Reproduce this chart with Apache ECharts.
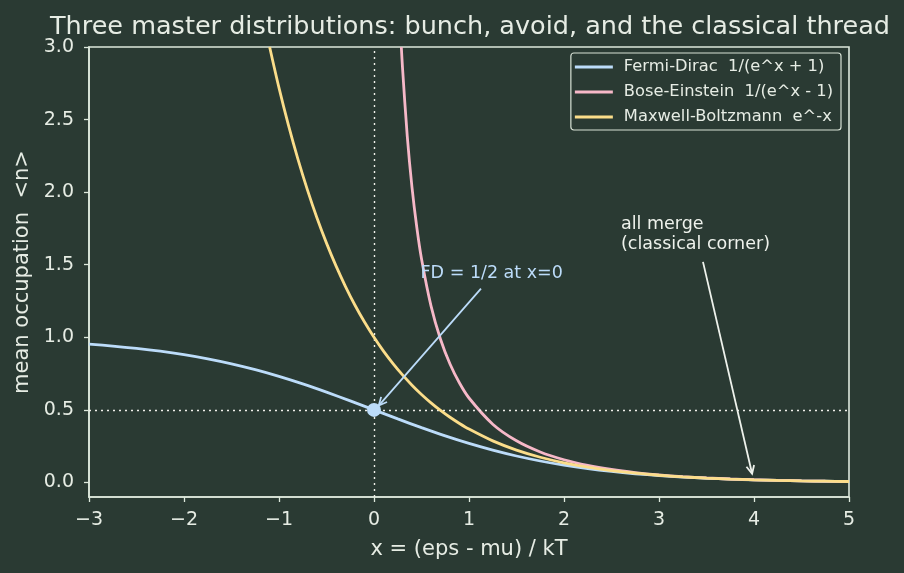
<!DOCTYPE html>
<html><head><meta charset="utf-8">
<script src="https://cdn.jsdelivr.net/npm/echarts@6/dist/echarts.min.js"></script>
<style>html,body{margin:0;padding:0;background:#2a3a33}#c{width:904px;height:573px}</style>
</head><body><div id="c"></div>
<script>
// Fermi-Dirac values
const fdX = [-3,-2.75,-2.5,-2.25,-2,-1.75,-1.5,-1.25,-1,-0.75,-0.5,-0.25,0,0.25,0.5,0.75,1,1.25,1.5,1.75,2,2.25,2.5,2.75,3,3.25,3.5,3.75,4,4.25,4.5,4.75,5];
const fdY = [0.9526,0.9399,0.9241,0.9047,0.8808,0.8520,0.8176,0.7773,0.7311,0.6792,0.6225,0.5622,0.5,0.4378,0.3775,0.3208,0.2689,0.2227,0.1824,0.1480,0.1192,0.0953,0.0759,0.0601,0.0474,0.0373,0.0293,0.0230,0.0180,0.0141,0.0110,0.0086,0.0067];
// Bose-Einstein
const beX = [0.2877,0.3,0.35,0.4,0.45,0.5,0.6,0.7,0.8,0.9,1,1.25,1.5,1.75,2,2.25,2.5,2.75,3,3.25,3.5,3.75,4,4.25,4.5,4.75,5];
const beY = [3.0,2.858,2.386,2.033,1.760,1.5415,1.2164,0.9864,0.8160,0.6851,0.5820,0.4016,0.2872,0.2103,0.1565,0.1178,0.0894,0.0683,0.0524,0.0403,0.0311,0.0241,0.0187,0.0145,0.0112,0.0087,0.0068];
// Maxwell-Boltzmann
const mbX = [-1.0986,-1,-0.9,-0.8,-0.7,-0.6,-0.5,-0.4,-0.3,-0.2,-0.1,0,0.1,0.2,0.3,0.4,0.5,0.6,0.7,0.8,0.9,1,1.25,1.5,1.75,2,2.25,2.5,2.75,3,3.25,3.5,3.75,4,4.25,4.5,4.75,5];
const mbY = [3.0,2.718,2.460,2.226,2.014,1.822,1.649,1.492,1.350,1.221,1.105,1.0,0.9048,0.8187,0.7408,0.6703,0.6065,0.5488,0.4966,0.4493,0.4066,0.3679,0.2865,0.2231,0.1738,0.1353,0.1054,0.0821,0.0639,0.0498,0.0388,0.0302,0.0235,0.0183,0.0143,0.0111,0.0087,0.0067];
const yTicks = [0,0.5,1,1.5,2,2.5,3];
const xTicks = [-3,-2,-1,0,1,2,3,4,5];
const seriesNames = ['Fermi-Dirac  1/(e^x + 1)','Bose-Einstein  1/(e^x - 1)','Maxwell-Boltzmann  e^-x'];
const markPointXY = [0,0.5];

const FONT = 'DejaVu Sans';
const FG = '#e6ece4';
const AX = '#dde8dc';
const C_FD = '#bcdcfa', C_BE = '#f6b8c8', C_MB = '#fbdd8a';
const zip = (a,b)=>a.map((v,i)=>[v,b[i]]);

const chart = echarts.init(document.getElementById('c'), null, {renderer:'canvas'});
const minus = v => String(v).replace('-', '\u2212');
chart.setOption({
  backgroundColor:'#2a3a33',
  animation:false,
  textStyle:{fontFamily:FONT},
  title:{text:'Three master distributions: bunch, avoid, and the classical thread',left:465,textAlign:'center',top:9,
    textStyle:{color:FG,fontSize:25.5,fontWeight:'normal',fontFamily:FONT}},
  grid:{left:89,right:55,top:47,bottom:76,show:true,borderColor:AX,borderWidth:1.6,backgroundColor:'transparent'},
  legend:{orient:'vertical',right:63,top:53,padding:[6,8,5,4],itemGap:9,itemWidth:38,itemHeight:3,icon:'rect',
    borderColor:'#d8e2d6',borderWidth:1.2,borderRadius:3,backgroundColor:'#2a3a33',
    textStyle:{color:FG,fontSize:16.3,fontFamily:FONT,padding:[0,0,0,6]},data:seriesNames},
  xAxis:{type:'value',min:-3,max:5,interval:1,
    name:'x = (eps - mu) / kT',nameLocation:'middle',nameGap:42,nameTextStyle:{color:FG,fontSize:21,fontFamily:FONT},
    axisLine:{show:true,onZero:false,lineStyle:{color:AX,width:1.6}},
    axisTick:{show:true,length:5,lineStyle:{color:AX,width:1.3}},
    axisLabel:{color:FG,fontSize:19,margin:14,fontFamily:FONT,formatter:v=>minus(v)},
    splitLine:{show:false}},
  yAxis:{type:'value',min:-0.1,max:3,
    name:'mean occupation  <n>',nameLocation:'middle',nameGap:47,nameTextStyle:{color:FG,fontSize:21,fontFamily:FONT},
    axisLine:{show:true,onZero:false,lineStyle:{color:AX,width:1.6}},
    axisTick:{show:true,length:5,customValues:yTicks,lineStyle:{color:AX,width:1.3}},
    axisLabel:{color:FG,fontSize:19,margin:15,fontFamily:FONT,customValues:yTicks,formatter:v=>v.toFixed(1)},
    splitLine:{show:false}},
  series:[
    {name:seriesNames[0],type:'line',data:zip(fdX,fdY),showSymbol:false,smooth:0.3,color:C_FD,lineStyle:{width:2.8,color:C_FD},z:3,
      markLine:{silent:true,symbol:['none','none'],label:{show:false},lineStyle:{type:[2,4],color:'#f0f0ea',width:1.4},
        data:[{xAxis:0},{yAxis:0.5}]},
      markPoint:{symbol:'circle',symbolSize:14,itemStyle:{color:C_FD},label:{show:false},data:[{coord:markPointXY}]}},
    {name:seriesNames[1],type:'line',data:zip(beX,beY),showSymbol:false,smooth:0.3,color:C_BE,lineStyle:{width:2.8,color:C_BE},z:4},
    {name:seriesNames[2],type:'line',data:zip(mbX,mbY),showSymbol:false,smooth:0.3,color:C_MB,lineStyle:{width:2.8,color:C_MB},z:5}
  ]
});

function arrow(p0,p1,color){
  const a = chart.convertToPixel({gridIndex:0},p0);
  const b = chart.convertToPixel({gridIndex:0},p1);
  const ang = Math.atan2(b[1]-a[1], b[0]-a[0]);
  const L = 9, th = 0.45;
  const h1 = [b[0]-L*Math.cos(ang-th), b[1]-L*Math.sin(ang-th)];
  const h2 = [b[0]-L*Math.cos(ang+th), b[1]-L*Math.sin(ang+th)];
  return [
    {type:'line',shape:{x1:a[0],y1:a[1],x2:b[0],y2:b[1]},style:{stroke:color,lineWidth:1.8},z:50},
    {type:'polyline',shape:{points:[h1,b,h2]},style:{stroke:color,lineWidth:1.8,fill:null},z:50}
  ];
}
function label(p,text,color){
  const a = chart.convertToPixel({gridIndex:0},p);
  return {type:'text',x:a[0],y:a[1],style:{text:text,fill:color,font:'17.5px "DejaVu Sans"',textVerticalAlign:'middle',lineHeight:20},z:50};
}
chart.setOption({graphic:[
  ...arrow([1.126,1.335],[0.05,0.53],C_FD),
  label([0.49,1.44],'FD = 1/2 at x=0',C_FD),
  ...arrow([3.463,1.52],[3.98,0.06],'#eef2ec'),
  label([2.6,1.708],'all merge\n(classical corner)','#eef2ec')
]});
</script></body></html>
